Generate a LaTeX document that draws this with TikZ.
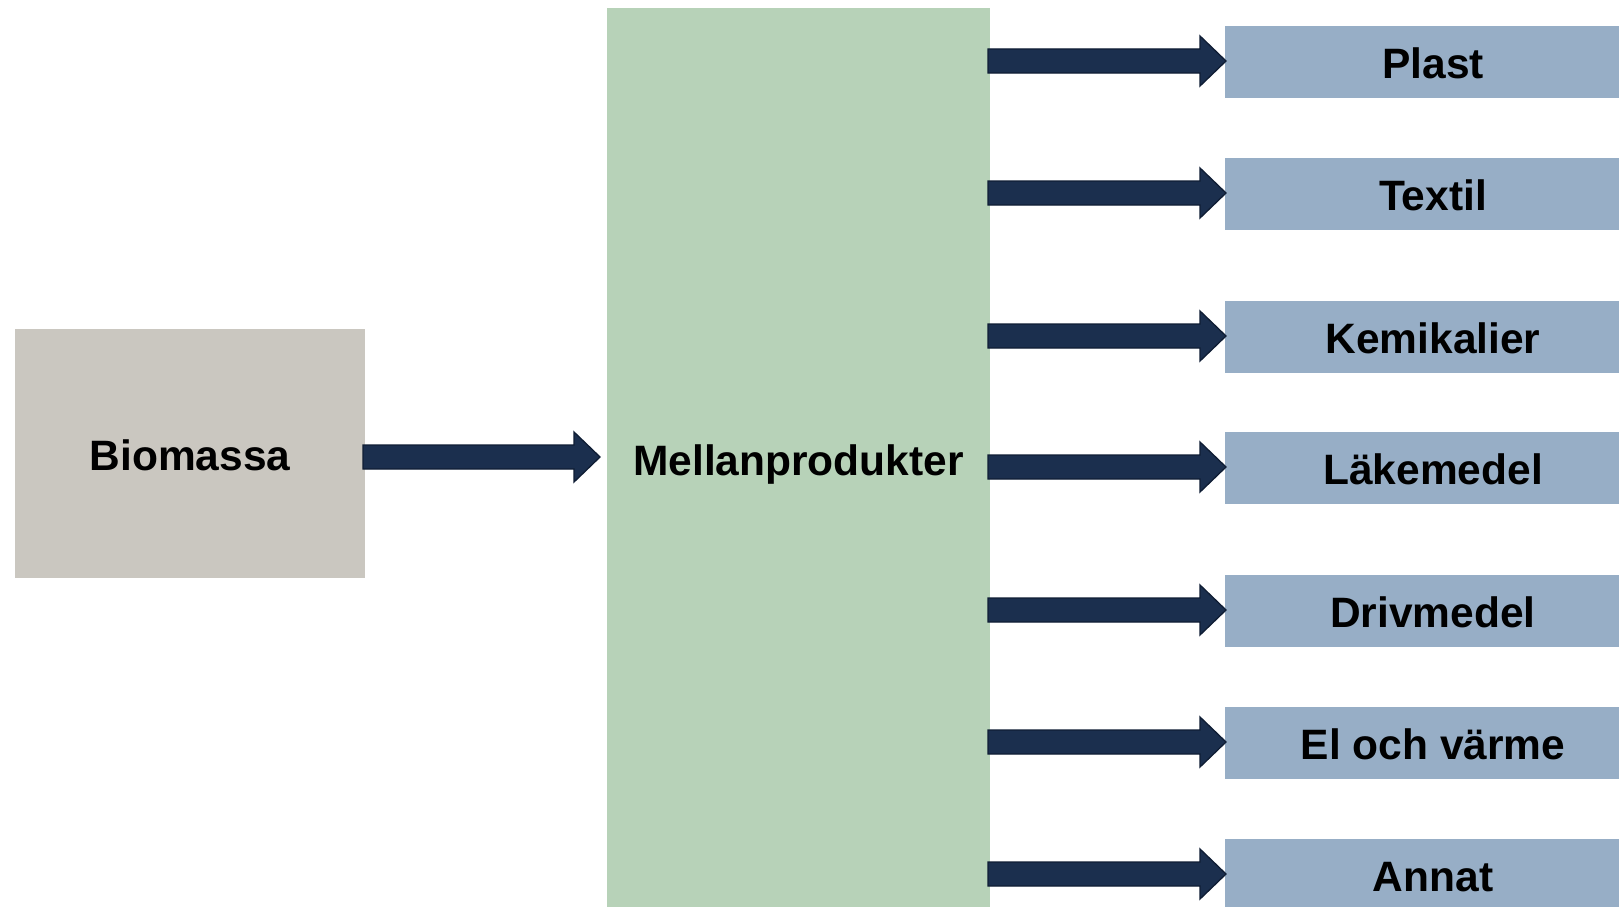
\documentclass[tikz,border=0pt]{standalone}
\usepackage{fontspec}
\setmainfont{Liberation Sans}
\usetikzlibrary{calc}
\definecolor{biogray}{RGB}{202,199,192}
\definecolor{midgreen}{RGB}{183,210,184}
\definecolor{outblue}{RGB}{151,174,198}
\definecolor{arrowfill}{RGB}{27,47,78}
\definecolor{arrowline}{RGB}{15,29,52}
\tikzset{
  boxbase/.style={rectangle, inner sep=0pt, outer sep=0pt, draw=none, text=black,
    font=\fontsize{42.5}{50}\selectfont\bfseries, text height=33.4pt, text depth=0pt},
  biobox/.style={boxbase, fill=biogray, minimum width=350pt, minimum height=249pt, text height=34.4pt},
  midbox/.style={boxbase, fill=midgreen, minimum width=383pt, minimum height=899pt, text height=36.4pt},
  outbox/.style={boxbase, fill=outblue, minimum width=416pt, minimum height=72pt},
  blockarrow/.style={fill=arrowfill, draw=arrowline, line width=1.3pt, line join=miter}
}
\newcommand{\blockarr}[2]{%
  \draw[blockarrow] ($(#1)+(0,-12)$) -- ($(#2)+(-26,-12)$) -- ($(#2)+(-26,-25)$)
    -- (#2) -- ($(#2)+(-26,25)$) -- ($(#2)+(-26,12)$) -- ($(#1)+(0,12)$) -- cycle;}
\begin{document}
\begin{tikzpicture}[x=1pt,y=-1pt]
\useasboundingbox (0,0) rectangle (1619,907);
\clip (0,0) rectangle (1619,907);
\fill[white] (0,0) rectangle (1619,907);
\node[biobox] (bio) at (190,453.5) {Biomassa};
\node[midbox] (mel) at (798.5,457.5) {Mellanprodukter};
\node[outbox] (p1) at (1433,62) {Plast};
\node[outbox] (p2) at (1433,194) {Textil};
\node[outbox] (p3) at (1433,337) {Kemikalier};
\node[outbox] (p4) at (1433,468) {Läkemedel};
\node[outbox] (p5) at (1433,611) {Drivmedel};
\node[outbox] (p6) at (1433,743) {El och värme};
\node[outbox] (p7) at (1433,875) {Annat};
% input arrow
\coordinate (bs) at ($(bio.east)+(-2,3.5)$);
\coordinate (bt) at ($(mel.west |- bs)+(-7,0)$);
\blockarr{bs}{bt}
% output arrows
\foreach \i in {1,...,7}{
  \coordinate (s\i) at ($(mel.east |- p\i.west)+(-2,-1)$);
  \coordinate (t\i) at ($(p\i.west)+(1,-1)$);
  \blockarr{s\i}{t\i}
}
\end{tikzpicture}
\end{document}
